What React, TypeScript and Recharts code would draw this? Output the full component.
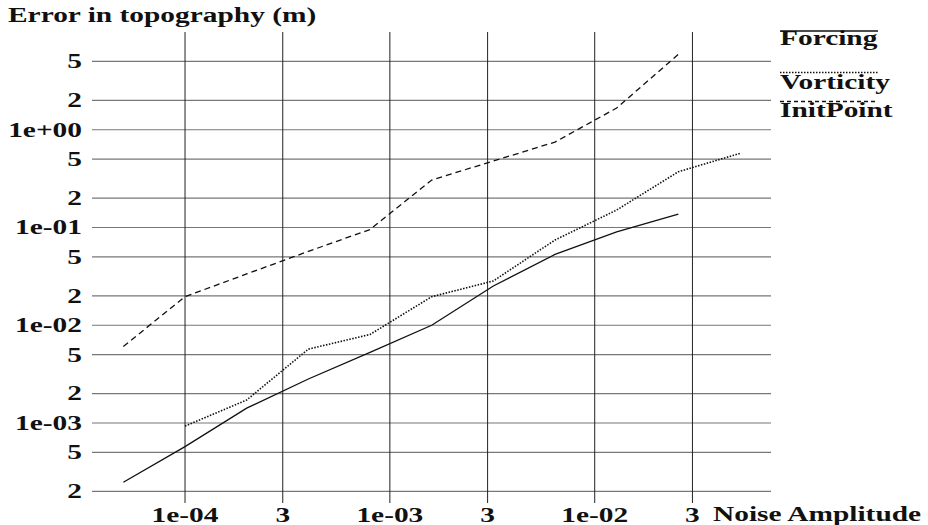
import React from "react";
import { LineChart, Line, XAxis, YAxis, ReferenceLine } from "recharts";

// noise amplitude (x), doubling each step
const noise = [5e-5, 1e-4, 2e-4, 4e-4, 8e-4, 1.6e-3, 3.2e-3, 6.4e-3, 1.28e-2, 2.56e-2, 5.12e-2];

// error in topography (m) per run
const forcing = [2.48e-4, 5.74e-4, 1.42e-3, 2.82e-3, 5.27e-3, 1.0e-2, 2.52e-2, 5.3e-2, 0.09, 0.137, null];
const vorticity = [null, 9.3e-4, 1.72e-3, 5.7e-3, 8.05e-3, 1.96e-2, 2.84e-2, 7.45e-2, 0.151, 0.372, 0.573];
const initPoint = [6.07e-3, 1.96e-2, 3.35e-2, 5.7e-2, 9.54e-2, 0.306, 0.479, 0.748, 1.67, 5.9, null];

const xTicks = [1e-4, 3e-4, 1e-3, 3e-3, 1e-2, 3e-2];
const xTickLabels = ["1e-04", "3", "1e-03", "3", "1e-02", "3"];
const yTicks = [2e-4, 5e-4, 1e-3, 2e-3, 5e-3, 1e-2, 2e-2, 5e-2, 0.1, 0.2, 0.5, 1, 2, 5];
const yTickLabels = ["2", "5", "1e-03", "2", "5", "1e-02", "2", "5", "1e-01", "2", "5", "1e+00", "2", "5"];

const series = [
  { key: "forcing", name: "Forcing", dash: undefined },
  { key: "vorticity", name: "Vorticity", dash: "1.5 1.5" },
  { key: "initPoint", name: "InitPoint", dash: "6 4" },
];

const data = noise.map((x, i) => ({
  x,
  forcing: forcing[i],
  vorticity: vorticity[i],
  initPoint: initPoint[i],
}));

const W = 928;
const H = 525;
const FONT = "'Liberation Serif', 'Times New Roman', serif";
const STRETCH = 1.47;
const INK = "#111";

function Label({ x, y, anchor = "start", dy = 0, children }: any) {
  return (
    <text
      transform={`translate(${x},${y}) scale(${STRETCH},1)`}
      textAnchor={anchor}
      dy={dy}
      fontFamily={FONT}
      fontWeight="bold"
      fontSize={20}
      fill={INK}
    >
      {children}
    </text>
  );
}

function XTick(props: any) {
  const i = xTicks.indexOf(props.payload.value);
  return <Label x={props.x} y={522} anchor="middle">{xTickLabels[i]}</Label>;
}

function YTick(props: any) {
  const i = yTicks.indexOf(props.payload.value);
  return <Label x={82} y={props.y} anchor="end" dy="0.34em">{yTickLabels[i]}</Label>;
}

export default function App() {
  return (
    <div style={{ position: "absolute", left: 0, top: 0, width: W, height: H, background: "#fff" }}>
      <LineChart width={W} height={H} data={data} margin={{ top: 32, right: 157, left: 0, bottom: 0 }}>
        <XAxis
          dataKey="x"
          type="number"
          scale="log"
          domain={[3.515e-5, 0.07254]}
          allowDataOverflow
          ticks={xTicks}
          tick={<XTick />}
          axisLine={false}
          tickLine={false}
          height={22}
        />
        <YAxis
          type="number"
          scale="log"
          domain={[1.52e-4, 10]}
          allowDataOverflow
          ticks={yTicks}
          tick={<YTick />}
          axisLine={false}
          tickLine={false}
          width={92}
        />
        {/* grid only at the tick values, no frame around the plot */}
        {yTicks.map((t) => (
          <ReferenceLine key={"h" + t} y={t} stroke="#777" strokeWidth={1.2} />
        ))}
        {xTicks.map((t) => (
          <ReferenceLine key={"v" + t} x={t} stroke="#222" strokeWidth={1} />
        ))}
        {series.map((s) => (
          <Line
            key={s.key}
            dataKey={s.key}
            name={s.name}
            stroke={INK}
            strokeWidth={s.dash === "1.5 1.5" ? 1.6 : 1.3}
            strokeDasharray={s.dash}
            dot={false}
            isAnimationActive={false}
          />
        ))}
      </LineChart>
      <svg
        width={W}
        height={H}
        style={{ position: "absolute", left: 0, top: 0, pointerEvents: "none" }}
      >
        <Label x={8} y={22}>Error in topography (m)</Label>
        <Label x={713} y={521}>Noise Amplitude</Label>
        {series.map((s, i) => {
          const lineY = [31, 72.5, 101.5][i];
          const textY = [45, 88.5, 117][i];
          return (
            <g key={s.key}>
              <line
                x1={780}
                x2={878}
                y1={lineY}
                y2={lineY}
                stroke={INK}
                strokeWidth={s.dash === "1.5 1.5" ? 1.6 : 1.3}
                strokeDasharray={s.dash === "6 4" ? "4 3" : s.dash}
              />
              <Label x={780} y={textY}>{s.name}</Label>
            </g>
          );
        })}
      </svg>
    </div>
  );
}
